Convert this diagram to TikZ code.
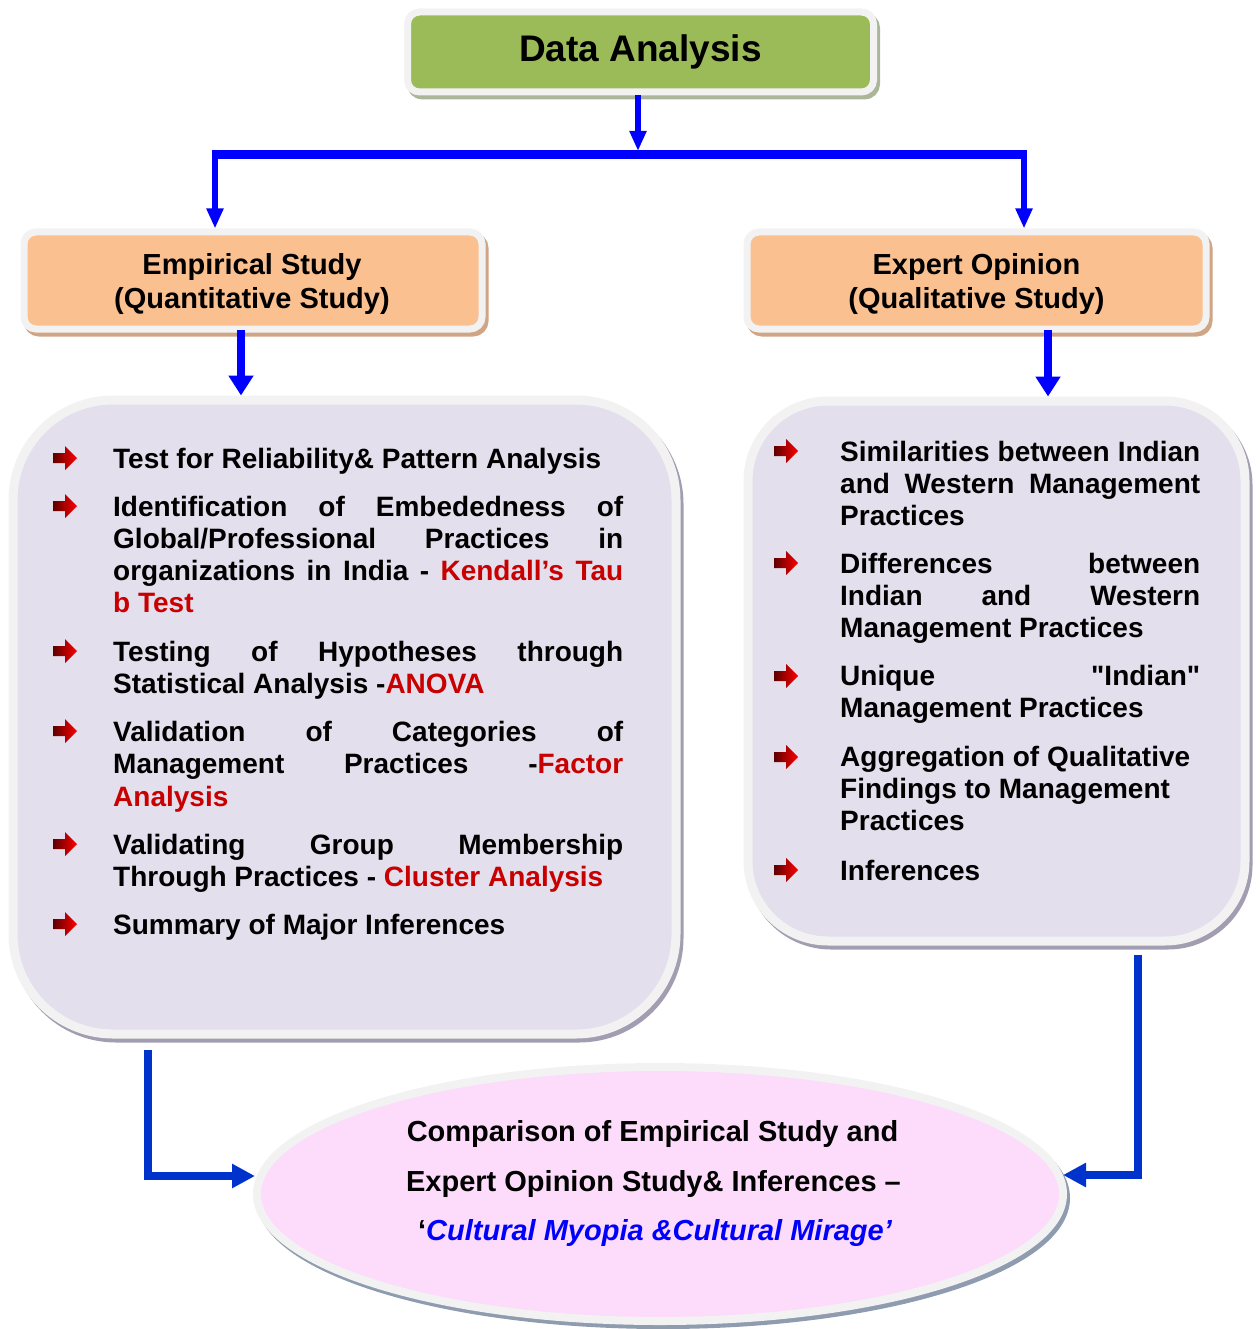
\documentclass[tikz,border=0pt]{standalone}
\usepackage{fontspec}
\setmainfont{Liberation Sans}[Ligatures=TeXOff]
\usetikzlibrary{arrows.meta,shapes.geometric}

\definecolor{bord}{HTML}{F2F2F2}
\definecolor{greenf}{HTML}{9BBB59}
\definecolor{greensh}{HTML}{AAB59A}
\definecolor{orangef}{HTML}{FAC090}
\definecolor{orangesh}{HTML}{CFA585}
\definecolor{lavf}{HTML}{E4DFEC}
\definecolor{lavsh}{HTML}{A39DB1}
\definecolor{pinkf}{HTML}{FCDCFA}
\definecolor{pinksh}{HTML}{8F9CAF}
\definecolor{arrblue}{HTML}{0000FF}
\definecolor{conblue}{HTML}{0033CC}
\definecolor{hl}{HTML}{C80000}
\definecolor{bulletdark}{HTML}{5C0000}

\newcommand{\jl}[1]{\makebox[510pt][s]{#1}}
\newcommand{\jr}[1]{\makebox[360pt][s]{#1}}

\begin{document}
\begin{tikzpicture}[x=1pt,y=-1pt,
  box/.style={draw=bord, rectangle, inner sep=0pt},
  shad/.style={preaction={draw=#1, fill=#1, transform canvas={shift={(3pt,-4pt)}}}},
  hdr/.style={anchor=base, inner sep=0pt, font=\bfseries\fontsize{29}{34}\selectfont},
  lt/.style={anchor=base west, inner sep=0pt, font=\bfseries\fontsize{28}{32}\selectfont},
  ct/.style={anchor=base, inner sep=0pt, font=\bfseries\fontsize{29}{34}\selectfont},
  redbul/.pic={\shade[left color=bulletdark, right color=red]
     (-12,-5) -- (0,-5) -- (0,-12) -- (12,0) -- (0,12) -- (0,5) -- (-12,5) -- cycle;},
  barline/.style={draw=arrblue, line width=9pt},
  arrA/.style={draw=arrblue, line width=6pt, -{Triangle[length=20pt,width=16pt]}},
  arrE/.style={draw=arrblue, line width=8pt, -{Triangle[length=20pt,width=24pt]}},
  arrB/.style={draw=conblue, line width=8pt, -{Triangle[length=23pt,width=23pt]}},
]
\useasboundingbox (0,0) rectangle (1259,1329);

% boxes
\node[box, shad=greensh, fill=greenf, line width=7pt, rounded corners=12pt,
      minimum width=466pt, minimum height=80pt,
      font=\bfseries\fontsize{37}{44}\selectfont] (da) at (640.5,52) {Data Analysis};
\node[box, shad=orangesh, fill=orangef, line width=7pt, rounded corners=12pt,
      minimum width=458pt, minimum height=97pt] (emp) at (253,280.5) {};
\node[box, shad=orangesh, fill=orangef, line width=7pt, rounded corners=12pt,
      minimum width=459pt, minimum height=97pt] (exp) at (976.5,280.5) {};
\node[box, shad=lavsh, fill=lavf, line width=9pt, rounded corners=100pt,
      minimum width=663pt, minimum height=634pt] (lbox) at (344.5,717) {};
\node[box, shad=lavsh, fill=lavf, line width=9pt, rounded corners=80pt,
      minimum width=497pt, minimum height=540pt] (rbox) at (996.5,671) {};
\node[draw=bord, ellipse, inner sep=0pt, shad=pinksh, fill=pinkf, line width=8pt,
      minimum width=806pt, minimum height=254pt] (cmp) at (660,1194) {};

% header texts
\node[hdr] (emp1) at (252,275) {Empirical Study};
\node[hdr] (emp2) at (252,308.5) {(Quantitative Study)};
\node[hdr] (exp1) at (976.5,275) {Expert Opinion};
\node[hdr] (exp2) at (976.5,308.5) {(Qualitative Study)};

% connectors top
\coordinate (bar) at (638,155);
\coordinate (bartop) at (638,151);
\coordinate (bl) at (215,155);
\coordinate (br) at (1024,155);
\draw[arrA] (da.south -| bar) -- (bartop);
\draw[barline] ([xshift=-3pt]bl) -- ([xshift=3pt]br);
\draw[arrA] (bl) -- (bl |- emp.north);
\draw[arrA] (br) -- (br |- exp.north);

\coordinate (ea) at (241,330);
\coordinate (xa) at (1048,330);
\draw[arrE] (ea) -- (ea |- lbox.north);
\draw[arrE] (xa) -- (xa |- rbox.north);

% left list
\foreach \yy in {458,506,651,731,844,924} \pic at (65,\yy) {redbul};
\node[lt] (l1) at (113,468) {Test for Reliability\& Pattern Analysis};
\node[lt] (l2a) at (113,516) {\jl{Identification of Embededness of}};
\node[lt] (l2b) at (113,548) {\jl{Global/Professional Practices in}};
\node[lt] (l2c) at (113,580) {\jl{organizations in India - \textcolor{hl}{Kendall’s Tau}}};
\node[lt] (l2d) at (113,612) {\textcolor{hl}{b Test}};
\node[lt] (l3a) at (113,661) {\jl{Testing of Hypotheses through}};
\node[lt] (l3b) at (113,693) {Statistical Analysis -\textcolor{hl}{ANOVA}};
\node[lt] (l4a) at (113,741) {\jl{Validation of Categories of}};
\node[lt] (l4b) at (113,773) {\jl{Management Practices -\textcolor{hl}{Factor}}};
\node[lt] (l4c) at (113,806) {\textcolor{hl}{Analysis}};
\node[lt] (l5a) at (113,854) {\jl{Validating Group Membership}};
\node[lt] (l5b) at (113,886) {Through Practices - \textcolor{hl}{Cluster Analysis}};
\node[lt] (l6) at (113,934) {Summary of Major Inferences};

% right list
\foreach \yy in {451,563,676,757,870} \pic at (786,\yy) {redbul};
\node[lt] (r1a) at (840,461) {\jr{Similarities between Indian}};
\node[lt] (r1b) at (840,493) {\jr{and Western Management}};
\node[lt] (r1c) at (840,525) {Practices};
\node[lt] (r2a) at (840,573) {\jr{Differences between}};
\node[lt] (r2b) at (840,605) {\jr{Indian and Western}};
\node[lt] (r2c) at (840,637) {Management Practices};
\node[lt] (r3a) at (840,685) {\jr{Unique "Indian"}};
\node[lt] (r3b) at (840,717) {Management Practices};
\node[lt] (r4a) at (840,766) {Aggregation of Qualitative};
\node[lt] (r4b) at (840,798) {Findings to Management};
\node[lt] (r4c) at (840,830) {Practices};
\node[lt] (r5) at (840,880) {Inferences};

% comparison text
\node[ct] (c1) at (652.5,1141) {Comparison of Empirical Study and};
\node[ct] (c2) at (653.5,1191) {Expert Opinion Study\& Inferences –};
\node[ct] (c3) at (655,1240) {‘\textcolor{arrblue}{\itshape Cultural Myopia \&Cultural Mirage’}};

% bottom connectors
\coordinate (ls) at (148,1050);
\coordinate (rs) at (1138,955);
\coordinate (le) at (255,1176);
\coordinate (re) at (1063,1175);
\draw[arrB] (ls) |- (le);
\draw[arrB] (rs) |- (re);
\end{tikzpicture}
\end{document}
